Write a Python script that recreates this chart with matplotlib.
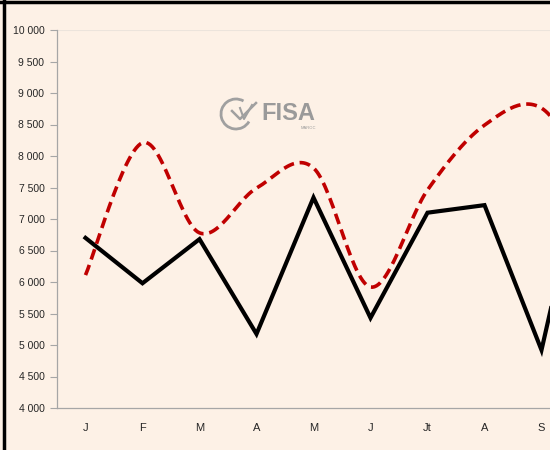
import matplotlib.pyplot as plt
import matplotlib.ticker as mticker
from matplotlib.patches import Arc
import numpy as np

months = ['J', 'F', 'M', 'A', 'M', 'J', 'Jt', 'A', 'S', '']
serie_noire = [6700, 5980, 6680, 5175, 7340, 5430, 7100, 7220, 4920, 8900]
serie_rouge = [6110, 8210, 6780, 7490, 7810, 5920, 7460, 8490, 8760, 7400]

bg = '#FDF1E6'


def smooth(y, n=30):
    # courbe lissee facon Excel (Catmull-Rom en Bezier)
    y = np.asarray(y, dtype=float)
    x = np.arange(len(y), dtype=float)
    xs, ys = [], []
    t = np.linspace(0, 1, n)
    for i in range(len(y) - 1):
        p0 = np.array([x[i], y[i]])
        p3 = np.array([x[i + 1], y[i + 1]])
        prev = np.array([x[i - 1], y[i - 1]]) if i > 0 else p0
        nxt = np.array([x[i + 2], y[i + 2]]) if i + 2 < len(y) else p3
        p1 = p0 + (p3 - prev) / 6
        p2 = p3 - (nxt - p0) / 6
        b = ((1 - t) ** 3)[:, None] * p0 + (3 * (1 - t) ** 2 * t)[:, None] * p1 \
            + (3 * (1 - t) * t ** 2)[:, None] * p2 + (t ** 3)[:, None] * p3
        xs.extend(b[:, 0])
        ys.extend(b[:, 1])
    return np.array(xs), np.array(ys)


fig = plt.figure(figsize=(5.5, 4.5), dpi=100, facecolor=bg)
ax = fig.add_axes([57 / 550, 42 / 450, 570 / 550, 378 / 450])
ax.set_facecolor(bg)

x = np.arange(len(months))
ax.plot(x, serie_noire, color='black', lw=3, solid_joinstyle='miter', zorder=3)
sx, sy = smooth(serie_rouge)
ax.plot(sx, sy, color='#C00000', lw=2.6, dashes=(3, 1.6), zorder=3)

ax.set_xlim(-0.5, len(months) - 0.5)
ax.set_ylim(4000, 10000)
ax.set_yticks(np.arange(4000, 10001, 500))
ax.yaxis.set_major_formatter(mticker.FuncFormatter(lambda v, p: f'{int(v):,}'.replace(',', ' ')))
ax.set_xticks(x)
ax.set_xticklabels(months)
ax.axhline(10000, color='#ECE4DC', lw=0.8, zorder=1)

for s in ['top', 'right']:
    ax.spines[s].set_visible(False)
for s in ['left', 'bottom']:
    ax.spines[s].set_color('#A6A6A6')
    ax.spines[s].set_linewidth(0.9)
ax.tick_params(axis='y', length=5, width=0.8, color='#A6A6A6', pad=4,
               labelsize=7.5, labelcolor='#262626')
ax.tick_params(axis='x', length=0, pad=11, labelsize=8, labelcolor='#262626')
for lab in ax.get_xticklabels() + ax.get_yticklabels():
    lab.set_fontfamily('Liberation Sans')

# logo
fig.text(261 / 550, 1 - 113 / 450, 'FISA', color='#9A9A9A', fontsize=17,
         fontweight='bold', family='Liberation Sans', va='center', ha='left')
fig.text(308 / 550, 1 - 128 / 450, 'MAROC', color='#9A9A9A', fontsize=3,
         family='Liberation Sans', va='center', ha='center')
ax_logo = fig.add_axes([218 / 550, 1 - 133 / 450, 44 / 550, 38 / 450])
ax_logo.set_xlim(0, 44)
ax_logo.set_ylim(0, 38)
ax_logo.axis('off')
ax_logo.add_patch(Arc((18, 19), 30, 30, theta1=60, theta2=330, color='#A0A0A0', lw=2))
ax_logo.plot([14, 22, 30, 38], [22, 14, 22, 30], color='#A0A0A0', lw=1.8)
ax_logo.plot([22, 26, 34], [25, 14, 28], color='#A0A0A0', lw=1.5)

# bordures
fig.add_artist(plt.Line2D([4 / 550, 4 / 550], [0, 1], color='black', lw=2.5, transform=fig.transFigure))
fig.add_artist(plt.Line2D([0, 1], [1 - 1.5 / 450, 1 - 1.5 / 450], color='black', lw=2.5, transform=fig.transFigure))

fig.savefig('out.png', dpi=100, facecolor=bg)
